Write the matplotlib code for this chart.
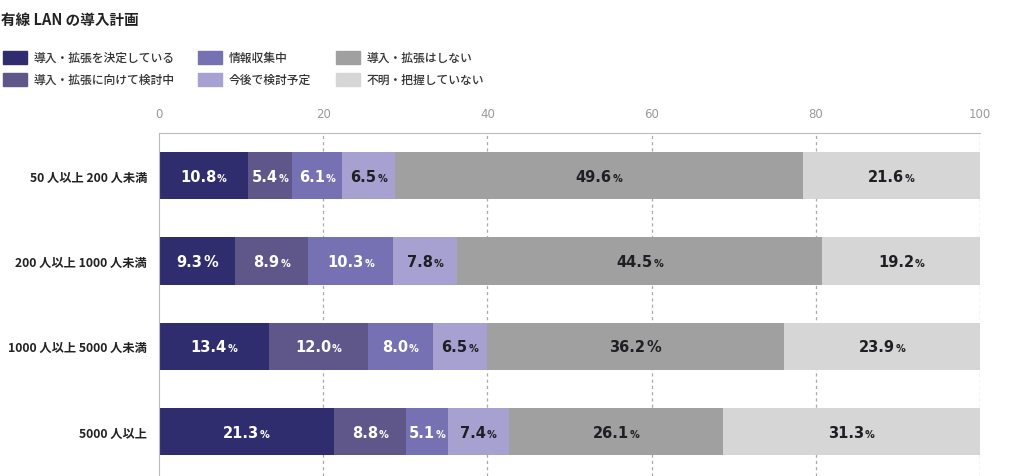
import matplotlib.pyplot as plt
from matplotlib.patches import Rectangle
from matplotlib import transforms

plt.rcParams['font.family'] = ['Noto Sans CJK JP', 'DejaVu Sans']

title = '有線 LAN の導入計画'
categories = ['50 人以上 200 人未満', '200 人以上 1000 人未満',
              '1000 人以上 5000 人未満', '5000 人以上']
series = ['導入・拡張を決定している', '導入・拡張に向けて検討中',
          '情報収集中', '今後で検討予定',
          '導入・拡張はしない', '不明・把握していない']
values = [
    [10.8, 5.4, 6.1, 6.5, 49.6, 21.6],
    [9.3, 8.9, 10.3, 7.8, 44.5, 19.2],
    [13.4, 12.0, 8.0, 6.5, 36.2, 23.9],
    [21.3, 8.8, 5.1, 7.4, 26.1, 31.3],
]
# labels where the % sign is drawn full size in the original
big_pct = [(1, 0), (2, 4)]
xticks = [0, 20, 40, 60, 80, 100]

colors = ['#2f2d6d', '#5f5789', '#7571b3', '#a6a1d0', '#a0a0a0', '#d6d6d6']
text_colors = ['white', 'white', 'white', '#1e1e24', '#1e1e24', '#1e1e24']

fig = plt.figure(figsize=(10.15, 4.77), dpi=100)
ax = fig.add_axes([159 / 1015, 0.0, 821 / 1015, 1 - 134 / 477])

for j, name in enumerate(series):
    lefts = [sum(row[:j]) for row in values]
    widths = [row[j] for row in values]
    ax.barh(range(len(categories)), widths, left=lefts, height=0.555,
            color=colors[j], edgecolor='none', zorder=2)

ax.set_xlim(0, 100)
ax.set_ylim(3.52, -0.5)
ax.set_xticks(xticks)
ax.set_xticklabels([str(t) for t in xticks], family='DejaVu Sans')
ax.xaxis.tick_top()
ax.tick_params(axis='x', length=0, pad=9, labelsize=8.5, labelcolor='#999999')
ax.set_yticks(range(len(categories)))
ax.set_yticklabels(categories, fontweight='bold', fontsize=8.8, color='#222222')
ax.tick_params(axis='y', length=0, pad=8.5)
for s in ['right', 'bottom']:
    ax.spines[s].set_visible(False)
ax.spines['top'].set_color('#bbbbbb')
ax.spines['left'].set_color('#bbbbbb')
for t in xticks[1:]:
    ax.axvline(t, color='#aaaaaa', lw=0.9, ls=(0, (2.5, 2.5)), zorder=1)

fig.canvas.draw()
r = fig.canvas.get_renderer()
for i, row in enumerate(values):
    for j, v in enumerate(row):
        cx = sum(row[:j]) + v / 2
        kw = dict(color=text_colors[j], fontweight='bold', family='DejaVu Sans',
                  va='baseline', ha='left', zorder=3)
        num = f'{v:.1f}'
        psize = 10.5 if (i, j) in big_pct else 7
        tmp1 = ax.text(0, 0, num, fontsize=10.5, **kw)
        tmp2 = ax.text(0, 0, '%', fontsize=psize, **kw)
        w1 = tmp1.get_window_extent(r).width
        w2 = tmp2.get_window_extent(r).width
        tmp1.remove()
        tmp2.remove()
        gap = 0.8
        start = -(w1 + w2 + gap) / 2
        tr1 = transforms.offset_copy(ax.transData, fig, x=start, y=-5, units='dots')
        tr2 = transforms.offset_copy(ax.transData, fig, x=start + w1 + gap, y=-5, units='dots')
        ax.text(cx, i, num, fontsize=10.5, transform=tr1, **kw)
        ax.text(cx, i, '%', fontsize=psize, transform=tr2, **kw)

# title
fig.text(1 / 1015, 1 - 20 / 477, title, fontsize=10.5, fontweight='bold',
         color='#222222', va='center', ha='left')

# legend
col_x = [3, 198, 336]
row_y = [58, 80]
for k, name in enumerate(series):
    c, rr = k // 2, k % 2
    x0 = col_x[c] / 1015
    yc = 1 - row_y[rr] / 477
    fig.patches.append(Rectangle((x0, yc - 6.5 / 477), 24 / 1015, 13 / 477,
                                 transform=fig.transFigure, color=colors[k]))
    fig.text(x0 + 31 / 1015, yc, name, fontsize=8.5, fontweight='medium',
             color='#333333', va='center', ha='left')

fig.savefig('out.png', dpi=100)
